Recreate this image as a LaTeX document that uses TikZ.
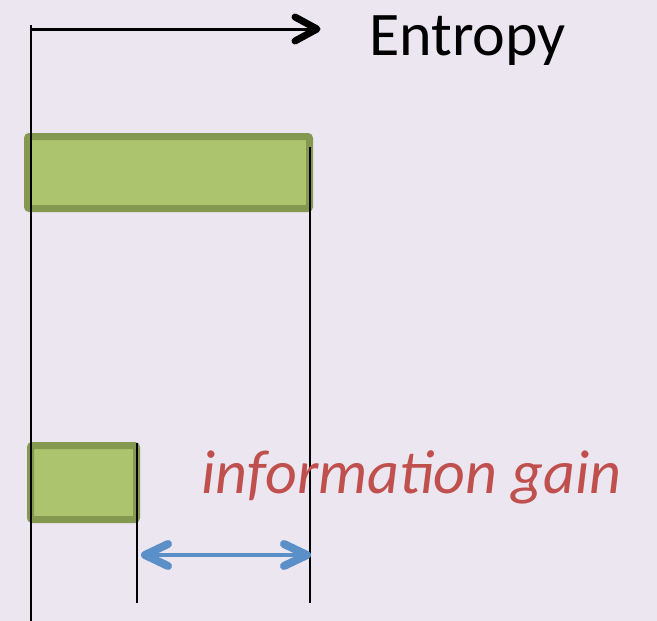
\documentclass[tikz,border=0pt]{standalone}
\usepackage{fontspec}
\setmainfont{Carlito}
\usetikzlibrary{calc}
\definecolor{bgcol}{HTML}{EBE6F0}
\definecolor{barfill}{HTML}{ABC46D}
\definecolor{barline}{HTML}{84994F}
\definecolor{gaincol}{HTML}{C0504D}
\definecolor{gainarrow}{HTML}{5B8FC8}
\tikzset{
  bar/.style={draw=barline, fill=barfill, line width=7pt, rounded corners=2pt},
  guide/.style={draw=black, line width=2.5pt},
  chevron/.style={line cap=round, line join=round},
  label/.style={inner sep=0pt, anchor=base west, font=\fontsize{62}{62}\selectfont},
}
\begin{document}
\begin{tikzpicture}[x=1pt, y=-1pt]
  \fill[bgcol] (0,0) rectangle (657,621);
  \useasboundingbox (0,0) rectangle (657,621);

  % entropy bars
  \draw[bar] (27.5,136.5) rectangle (309.5,208.5);
  \draw[bar] (30.5,445.5) rectangle (136.5,519.5);

  % reference points for the guide lines
  \coordinate (origin) at (31,25);
  \coordinate (axisstart) at (31,29);
  \coordinate (axisend) at (317,29);
  \coordinate (leftbottom) at (31,621);
  \coordinate (fulltop) at (310,147);
  \coordinate (fullbottom) at (310,603);
  \coordinate (parttop) at (137,443);
  \coordinate (partbottom) at (137,603);
  \coordinate (gainleft) at (145,555);
  \coordinate (gainright) at (307,555);

  % guide lines
  \draw[guide] (origin) -- (leftbottom);
  \draw[guide] (fulltop) -- (fullbottom);
  \draw[guide] (parttop) -- (partbottom);

  % entropy axis with open arrow head
  \draw[black, line width=3pt] (axisstart) -- (axisend);
  \draw[black, line width=7pt, chevron]
    ($(axisend)+(-22,-12)$) -- (axisend) -- ($(axisend)+(-22,12)$);

  % gain arrow, open heads at both ends
  \draw[gainarrow, line width=4pt] (gainleft) -- (gainright);
  \draw[gainarrow, line width=8pt, chevron]
    ($(gainleft)+(23,-11)$) -- (gainleft) -- ($(gainleft)+(23,11)$);
  \draw[gainarrow, line width=8pt, chevron]
    ($(gainright)+(-23,-11)$) -- (gainright) -- ($(gainright)+(-23,11)$);

  \node[label] (entropy) at (369,55) {Entropy};
  \node[label, text=gaincol, font=\fontsize{62}{62}\selectfont\itshape] (gain) at (201,493) {information gain};
\end{tikzpicture}
\end{document}
